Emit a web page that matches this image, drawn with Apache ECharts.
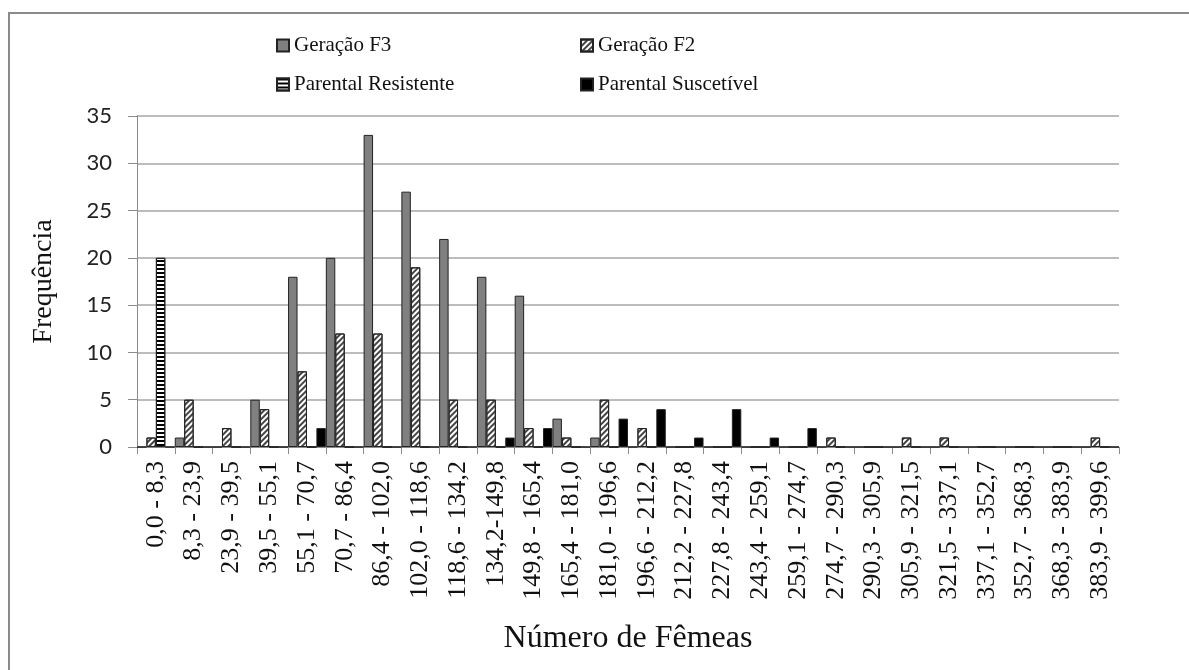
<!DOCTYPE html>
<html>
<head>
<meta charset="utf-8">
<title>Número de Fêmeas</title>
<script src="https://cdn.jsdelivr.net/npm/echarts@6/dist/echarts.min.js"></script>
<style>
  html, body { margin: 0; padding: 0; background: #fff; }
  #chart { width: 1189px; height: 670px; }
</style>
</head>
<body>
<div id="chart"></div>
<script>
// classes de número de fêmeas
const categories = [
  '0,0 - 8,3', '8,3 - 23,9', '23,9 - 39,5', '39,5 - 55,1', '55,1 - 70,7',
  '70,7 - 86,4', '86,4 - 102,0', '102,0 - 118,6', '118,6 - 134,2', '134,2-149,8',
  '149,8 - 165,4', '165,4 - 181,0', '181,0 - 196,6', '196,6 - 212,2', '212,2 - 227,8',
  '227,8 - 243,4', '243,4 - 259,1', '259,1 - 274,7', '274,7 - 290,3', '290,3 - 305,9',
  '305,9 - 321,5', '321,5 - 337,1', '337,1 - 352,7', '352,7 - 368,3', '368,3 - 383,9',
  '383,9 - 399,6'
];

const geracaoF3 = [0, 1, 0, 5, 18, 20, 33, 27, 22, 18, 16, 3, 1, 0, 0, 0, 0, 0, 0, 0, 0, 0, 0, 0, 0, 0];
const geracaoF2 = [1, 5, 2, 4, 8, 12, 12, 19, 5, 5, 2, 1, 5, 2, 0, 0, 0, 0, 1, 0, 1, 1, 0, 0, 0, 1];
const parentalResistente = [20, 0, 0, 0, 0, 0, 0, 0, 0, 0, 0, 0, 0, 0, 0, 0, 0, 0, 0, 0, 0, 0, 0, 0, 0, 0];
const parentalSuscetivel = [0, 0, 0, 0, 2, 0, 0, 0, 0, 1, 2, 0, 3, 4, 1, 4, 1, 2, 0, 0, 0, 0, 0, 0, 0, 0];

const yTicks = [0, 5, 10, 15, 20, 25, 30, 35];

const serif = '"Liberation Serif", "DejaVu Serif", serif';

const chart = echarts.init(document.getElementById('chart'));

const barBorder = { borderColor: '#222', borderWidth: 1 };

// one legend per item so they sit on a 2x2 grid like the original
const legendItem = (name, left, top) => ({
  data: [name],
  left: left,
  top: top,
  padding: 0,
  itemWidth: 12,
  itemHeight: 12,
  icon: 'rect',
  textStyle: { fontFamily: serif, fontSize: 21, color: '#111' }
});

const option = {
  backgroundColor: '#fff',
  animation: false,
  graphic: [{
    type: 'rect',
    shape: { x: 9, y: 13, width: 1200, height: 700 },
    style: { fill: 'none', stroke: '#8a8a8a', lineWidth: 2 },
    silent: true
  }],
  legend: [
    legendItem('Geração F3', 276, 35),
    legendItem('Geração F2', 580, 35),
    legendItem('Parental Resistente', 276, 74),
    legendItem('Parental Suscetível', 580, 74)
  ],
  grid: { left: 137, right: 70, top: 116, bottom: 223 },
  xAxis: {
    type: 'category',
    data: categories,
    name: 'Número de Fêmeas',
    nameLocation: 'middle',
    nameGap: 176,
    nameTextStyle: { fontFamily: serif, fontSize: 32, color: '#111' },
    axisLine: { lineStyle: { color: '#8c8c8c', width: 1 } },
    axisTick: { show: true, length: 7, lineStyle: { color: '#8c8c8c' } },
    axisLabel: {
      rotate: 90,
      interval: 0,
      margin: 14,
      fontFamily: serif,
      fontSize: 26,
      color: '#111'
    }
  },
  yAxis: {
    type: 'value',
    min: yTicks[0],
    max: yTicks[yTicks.length - 1],
    interval: 5,
    name: 'Frequência',
    nameLocation: 'middle',
    nameGap: 79,
    nameTextStyle: { fontFamily: serif, fontSize: 28, color: '#111' },
    axisLine: { show: true, lineStyle: { color: '#8c8c8c' } },
    axisTick: { show: true, length: 9, lineStyle: { color: '#8c8c8c' } },
    axisLabel: {
      margin: 25,
      fontFamily: 'Lato, "Open Sans", sans-serif',
      fontSize: 22,
      color: '#222'
    },
    splitLine: { lineStyle: { color: '#a6a6a6', width: 1.5 } }
  },
  series: [
    {
      name: 'Geração F3',
      type: 'bar',
      data: geracaoF3,
      barGap: '0%',
      barCategoryGap: '0%',
      itemStyle: Object.assign({ color: '#808080' }, barBorder)
    },
    {
      name: 'Geração F2',
      type: 'bar',
      data: geracaoF2,
      itemStyle: Object.assign({
        color: '#ffffff',
        decal: {
          symbol: 'rect',
          symbolSize: 1,
          color: '#444',
          dashArrayX: [1, 0],
          dashArrayY: [1.5, 2],
          rotation: -Math.PI / 4
        }
      }, barBorder)
    },
    {
      name: 'Parental Resistente',
      type: 'bar',
      data: parentalResistente,
      itemStyle: Object.assign({
        color: '#ffffff',
        decal: {
          symbol: 'rect',
          symbolSize: 1,
          color: '#000',
          dashArrayX: [1, 0],
          dashArrayY: [1.6, 1.8],
          rotation: 0
        }
      }, barBorder)
    },
    {
      name: 'Parental Suscetível',
      type: 'bar',
      data: parentalSuscetivel,
      itemStyle: Object.assign({ color: '#000000' }, barBorder)
    }
  ]
};

chart.setOption(option);
window.addEventListener('resize', () => chart.resize());
</script>
</body>
</html>
